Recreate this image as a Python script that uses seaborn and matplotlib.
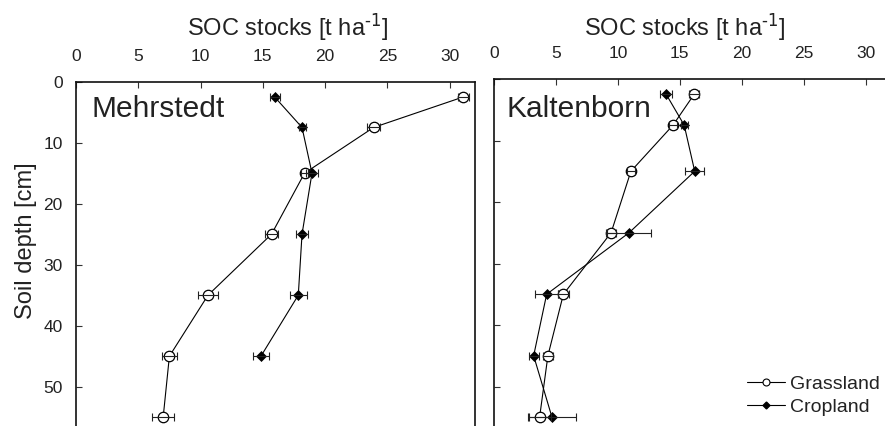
import numpy as np
import pandas as pd
import matplotlib
matplotlib.use("Agg")
import matplotlib.pyplot as plt
import seaborn as sns
from matplotlib.lines import Line2D

# ---- data ----
depth = [2.5, 7.5, 15, 25, 35, 45, 55]

meh_grass = [31.1, 23.9, 18.35, 15.7, 10.6, 7.5, 7.0]
meh_grass_err = [0.45, 0.5, 0.3, 0.55, 0.78, 0.6, 0.87]
meh_crop_depth = [2.5, 7.5, 15, 25, 35, 45]
meh_crop = [15.95, 18.15, 18.95, 18.15, 17.85, 14.85]
meh_crop_err = [0.4, 0.28, 0.45, 0.5, 0.7, 0.67]

kal_grass = [16.15, 14.45, 11.05, 9.45, 5.6, 4.35, 3.68]
kal_grass_err = [0.4, 0.35, 0.3, 0.4, 0.43, 0.4, 0.89]
kal_crop = [13.9, 15.35, 16.2, 10.9, 4.25, 3.2, 4.68]
kal_crop_err = [0.5, 0.27, 0.78, 1.8, 0.94, 0.4, 1.9]

x_ticks = [0, 5, 10, 15, 20, 25, 30]
y_ticks = [0, 10, 20, 30, 40, 50]
site_names = ["Mehrstedt", "Kaltenborn"]
series_names = ["Grassland", "Cropland"]
xlabel = r"SOC stocks [t ha$^{\text{-1}}$]"
ylabel = "Soil depth [cm]"

sns.set_style("ticks")
plt.rcParams["font.family"] = ["Liberation Sans", "DejaVu Sans"]
plt.rcParams["mathtext.default"] = "regular"

W, H = 885, 426
fig = plt.figure(figsize=(W / 100, H / 100), dpi=100)
ax1 = fig.add_axes([76 / W, 0, (474.5 - 76) / W, (H - 81.7) / H])
ax2 = fig.add_axes([494 / W, 0, (W - 494) / W, (H - 79) / H])


def frame(d, soc, err, name):
    return pd.DataFrame({"depth": d, "soc": soc, "err": err, "series": name})


panels = [
    (ax1, frame(depth, meh_grass, meh_grass_err, series_names[0]),
     frame(meh_crop_depth, meh_crop, meh_crop_err, series_names[1])),
    (ax2, frame(depth, kal_grass, kal_grass_err, series_names[0]),
     frame(depth, kal_crop, kal_crop_err, series_names[1])),
]

for ax, g, c in panels:
    sns.lineplot(data=g, x="soc", y="depth", sort=False, estimator=None, orient="y",
                 color="black", lw=0.8, marker="o", markersize=7.5,
                 markerfacecolor="white", markeredgecolor="black", markeredgewidth=0.9,
                 legend=False, ax=ax, zorder=2)
    sns.lineplot(data=c, x="soc", y="depth", sort=False, estimator=None, orient="y",
                 color="black", lw=0.8, marker="D", markersize=5,
                 markerfacecolor="black", markeredgecolor="black", markeredgewidth=0.5,
                 legend=False, ax=ax, zorder=2)
    for d in (g, c):
        ax.errorbar(d["soc"], d["depth"], xerr=d["err"], fmt="none", ecolor="#222222",
                    elinewidth=0.8, capsize=2.8, capthick=0.8, zorder=3)

ax1.set_xlim(0, 32)
ax2.set_xlim(0, (W - 494) / 12.39)
ax1.set_ylim((H - 81.7) / 6.1, 0)
ax2.set_ylim((H - 79) / 6.15, 0)

for ax in (ax1, ax2):
    ax.xaxis.tick_top()
    ax.xaxis.set_label_position("top")
    ax.set_xticks(x_ticks)
    ax.set_yticks(y_ticks)
    ax.tick_params(axis="both", direction="in", length=4.5, width=0.8,
                   colors="#333333", labelcolor="#222222", labelsize=12.5)
    ax.tick_params(axis="x", pad=13)
    ax.tick_params(axis="y", pad=9.5)
    ax.spines["bottom"].set_visible(False)
    for s in ("top", "left", "right"):
        ax.spines[s].set_linewidth(1.2)
        ax.spines[s].set_color("#111111")
    ax.set_xlabel(xlabel, fontsize=17, color="#222222")

ax2.spines["right"].set_visible(False)
ax2.tick_params(axis="y", labelleft=False)
ax2.set_ylabel("")
ax1.set_ylabel(ylabel, fontsize=17, color="#222222")
ax1.yaxis.set_label_coords((37 - 76) / 398.5, (H - 240.5) / (H - 81.7))
ax1.xaxis.set_label_coords((288 - 76) / 398.5, (H - 36) / (H - 81.7))
ax2.xaxis.set_label_coords((685 - 494) / 391, (H - 36) / (H - 79))

ax1.text(1.25, 5.8, site_names[0], fontsize=21.5, color="#222222", va="baseline")
ax2.text(1.0, 6.2, site_names[1], fontsize=21.5, color="#222222", va="baseline")

handles = [
    Line2D([], [], color="black", lw=0.8, marker="o", markersize=5,
           markerfacecolor="white", markeredgecolor="black", markeredgewidth=0.8),
    Line2D([], [], color="black", lw=0.8, marker="D", markersize=3.5,
           markerfacecolor="black", markeredgecolor="black"),
]
fig.legend(handles, series_names, loc="lower left",
           bbox_to_anchor=(747 / W, 10 / H), bbox_transform=fig.transFigure,
           frameon=False, fontsize=14, handlelength=1.95, handletextpad=0.25,
           labelspacing=0.3, borderpad=0, borderaxespad=0, labelcolor="#222222")

fig.savefig("out.png", dpi=100)
